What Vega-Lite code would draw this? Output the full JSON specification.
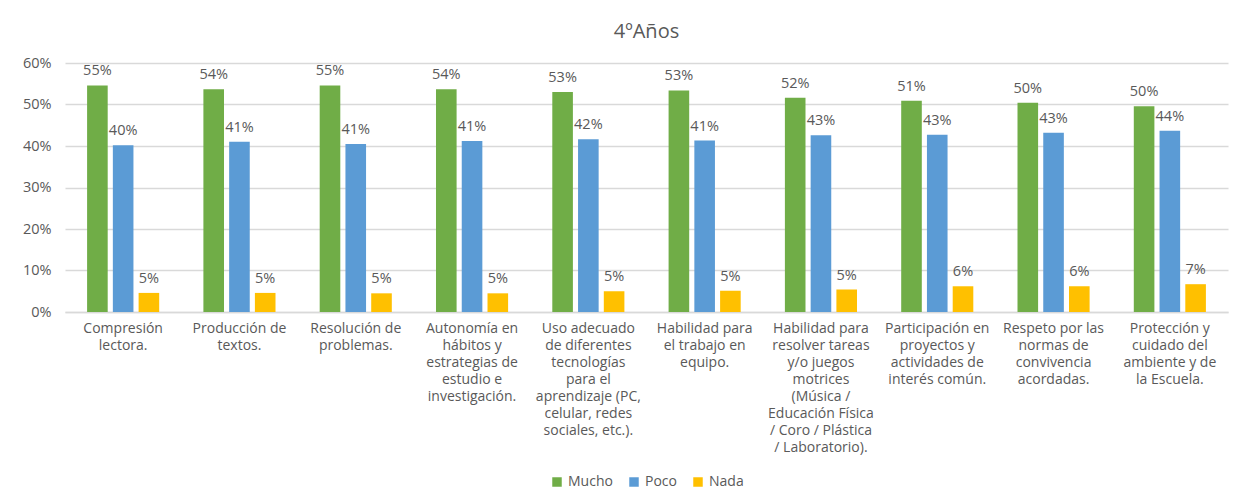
{
  "$schema": "https://vega.github.io/schema/vega-lite/v6.json",
  "width": 1163,
  "height": 249,
  "padding": {"left": 22, "top": 22, "right": 20, "bottom": 5},
  "background": "white",
  "title": {"text": "4ºAños", "fontSize": 20, "font": "Open Sans", "color": "#595959", "fontWeight": "normal", "offset": 13},
  "config": {
    "view": {"stroke": null},
    "font": "Open Sans",
    "legend": {"layout": {"bottom": {"anchor": "middle"}}}
  },
  "data": {
    "values": [
      {"cat": "Compresión|lectora.", "serie": "Mucho", "v": 0.546},
      {"cat": "Compresión|lectora.", "serie": "Poco", "v": 0.402},
      {"cat": "Compresión|lectora.", "serie": "Nada", "v": 0.046},
      {"cat": "Producción de|textos.", "serie": "Mucho", "v": 0.537},
      {"cat": "Producción de|textos.", "serie": "Poco", "v": 0.410},
      {"cat": "Producción de|textos.", "serie": "Nada", "v": 0.046},
      {"cat": "Resolución de|problemas.", "serie": "Mucho", "v": 0.546},
      {"cat": "Resolución de|problemas.", "serie": "Poco", "v": 0.405},
      {"cat": "Resolución de|problemas.", "serie": "Nada", "v": 0.045},
      {"cat": "Autonomía en|hábitos y|estrategias de|estudio e|investigación.", "serie": "Mucho", "v": 0.537},
      {"cat": "Autonomía en|hábitos y|estrategias de|estudio e|investigación.", "serie": "Poco", "v": 0.412},
      {"cat": "Autonomía en|hábitos y|estrategias de|estudio e|investigación.", "serie": "Nada", "v": 0.045},
      {"cat": "Uso adecuado|de diferentes|tecnologías|para el|aprendizaje (PC,|celular, redes|sociales, etc.).", "serie": "Mucho", "v": 0.530},
      {"cat": "Uso adecuado|de diferentes|tecnologías|para el|aprendizaje (PC,|celular, redes|sociales, etc.).", "serie": "Poco", "v": 0.416},
      {"cat": "Uso adecuado|de diferentes|tecnologías|para el|aprendizaje (PC,|celular, redes|sociales, etc.).", "serie": "Nada", "v": 0.050},
      {"cat": "Habilidad para|el trabajo en|equipo.", "serie": "Mucho", "v": 0.534},
      {"cat": "Habilidad para|el trabajo en|equipo.", "serie": "Poco", "v": 0.413},
      {"cat": "Habilidad para|el trabajo en|equipo.", "serie": "Nada", "v": 0.051},
      {"cat": "Habilidad para|resolver tareas|y/o juegos|motrices|(Música /|Educación Física|/ Coro / Plástica|/ Laboratorio).", "serie": "Mucho", "v": 0.516},
      {"cat": "Habilidad para|resolver tareas|y/o juegos|motrices|(Música /|Educación Física|/ Coro / Plástica|/ Laboratorio).", "serie": "Poco", "v": 0.426},
      {"cat": "Habilidad para|resolver tareas|y/o juegos|motrices|(Música /|Educación Física|/ Coro / Plástica|/ Laboratorio).", "serie": "Nada", "v": 0.054},
      {"cat": "Participación en|proyectos y|actividades de|interés común.", "serie": "Mucho", "v": 0.509},
      {"cat": "Participación en|proyectos y|actividades de|interés común.", "serie": "Poco", "v": 0.427},
      {"cat": "Participación en|proyectos y|actividades de|interés común.", "serie": "Nada", "v": 0.062},
      {"cat": "Respeto por las|normas de|convivencia|acordadas.", "serie": "Mucho", "v": 0.504},
      {"cat": "Respeto por las|normas de|convivencia|acordadas.", "serie": "Poco", "v": 0.432},
      {"cat": "Respeto por las|normas de|convivencia|acordadas.", "serie": "Nada", "v": 0.062},
      {"cat": "Protección y|cuidado del|ambiente y de|la Escuela.", "serie": "Mucho", "v": 0.496},
      {"cat": "Protección y|cuidado del|ambiente y de|la Escuela.", "serie": "Poco", "v": 0.437},
      {"cat": "Protección y|cuidado del|ambiente y de|la Escuela.", "serie": "Nada", "v": 0.067}
    ]
  },
  "encoding": {
    "x": {
      "field": "cat",
      "type": "nominal",
      "sort": null,
      "title": null,
      "scale": {"paddingInner": 0.38, "paddingOuter": 0.19},
      "axis": {
        "labelAngle": 0,
        "labelExpr": "split(datum.label, '|')",
        "labelFont": "Open Sans",
        "labelFontSize": 14,
        "labelColor": "#595959",
        "labelLineHeight": 17,
        "labelPadding": 9,
        "labelBaseline": "top",
        "labelLimit": 300,
        "labelOverlap": false,
        "ticks": false,
        "domainColor": "#D9D9D9",
        "domainWidth": 1.5,
        "grid": false
      }
    },
    "xOffset": {"field": "serie", "type": "nominal", "sort": ["Mucho", "Poco", "Nada"], "scale": {"paddingInner": 0.2, "paddingOuter": 0}},
    "y": {
      "field": "v",
      "type": "quantitative",
      "title": null,
      "scale": {"domain": [0, 0.6]},
      "axis": {
        "format": ".0%",
        "values": [0, 0.1, 0.2, 0.3, 0.4, 0.5, 0.6],
        "labelOverlap": false,
        "labelFont": "Open Sans",
        "labelFontSize": 14.5,
        "labelColor": "#595959",
        "labelPadding": 14,
        "ticks": false,
        "domain": false,
        "gridColor": "#D9D9D9",
        "gridWidth": 1.3
      }
    }
  },
  "layer": [
    {
      "mark": {"type": "bar"},
      "encoding": {
        "color": {
          "field": "serie",
          "type": "nominal",
          "sort": ["Mucho", "Poco", "Nada"],
          "scale": {"domain": ["Mucho", "Poco", "Nada"], "range": ["#70AD47", "#5B9BD5", "#FFC000"]},
          "legend": {
            "orient": "bottom",
            "direction": "horizontal",
            "title": null,
            "symbolType": "square",
            "symbolSize": 90,
            "symbolStrokeWidth": 0,
            "labelFont": "Open Sans",
            "labelFontSize": 14,
            "labelColor": "#595959",
            "labelOffset": 4,
            "columnPadding": 14,
            "offset": 21
          }
        }
      }
    },
    {
      "mark": {"type": "text", "baseline": "bottom", "dy": -7, "font": "Open Sans", "fontSize": 14.5, "color": "#595959"},
      "encoding": {
        "text": {"field": "v", "type": "quantitative", "format": ".0%"}
      }
    }
  ]
}
